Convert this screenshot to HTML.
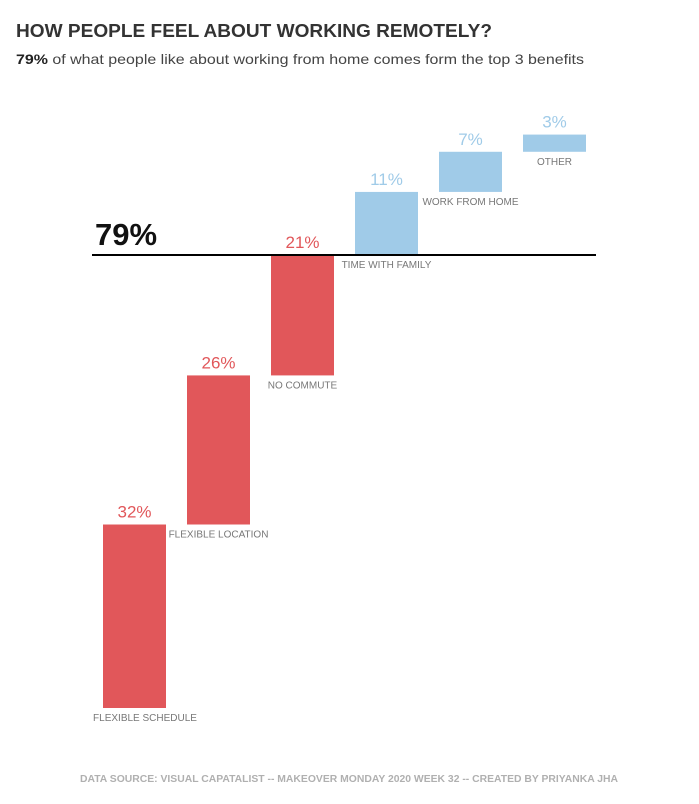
<!DOCTYPE html>
<html><head><meta charset="utf-8"><style>
body{margin:0;background:#fff;font-family:"Liberation Sans",sans-serif}
</style></head><body>
<svg width="699" height="799" xmlns="http://www.w3.org/2000/svg">
<text x="16" y="37" font-size="18" font-weight="bold" fill="#333" textLength="476" lengthAdjust="spacingAndGlyphs">HOW PEOPLE FEEL ABOUT WORKING REMOTELY?</text>
<text x="16" y="64" font-size="14" fill="#444" textLength="568" lengthAdjust="spacingAndGlyphs"><tspan font-weight="bold" fill="#222">79%</tspan> of what people like about working from home comes form the top 3 benefits</text>
<g id="bars"></g>
<line x1="92" y1="255" x2="596" y2="255" stroke="#000" stroke-width="2"/>
<text x="95" y="245" font-size="31" font-weight="bold" fill="#111">79%</text>
<text x="80" y="782" font-size="10" font-weight="bold" fill="#b0b0b0" textLength="538" lengthAdjust="spacingAndGlyphs">DATA SOURCE: VISUAL CAPATALIST -- MAKEOVER MONDAY 2020 WEEK 32 -- CREATED BY PRIYANKA JHA</text>
</svg>
<script>
const categories=["FLEXIBLE SCHEDULE","FLEXIBLE LOCATION","NO COMMUTE","TIME WITH FAMILY","WORK FROM HOME","OTHER"];
const values=[32,26,21,11,7,3];
const topCount=3;
const ns="http://www.w3.org/2000/svg";
const y=v=>708-v*(453/79);
const xStart=103,step=84,bw=63;
const g=document.getElementById("bars");
let cum=0;
values.forEach((v,i)=>{
  const base=cum;cum+=v;
  const red=i<topCount;
  const col=red?"#e1575a":"#a0cbe8";
  const x=xStart+i*step;
  const r=document.createElementNS(ns,"rect");
  r.setAttribute("x",x);r.setAttribute("y",y(cum));r.setAttribute("width",bw);r.setAttribute("height",y(base)-y(cum));r.setAttribute("fill",col);
  
  
  g.appendChild(r);
  const t=document.createElementNS(ns,"text");
  t.setAttribute("x",x+bw/2);t.setAttribute("y",y(cum)-7);t.setAttribute("text-anchor","middle");t.setAttribute("font-size","17");t.setAttribute("fill",col);
  t.textContent=v+"%";
  
  
  g.appendChild(t);
  const c=document.createElementNS(ns,"text");
  let cx=x+bw/2; if(i===0)cx=145;
  c.setAttribute("x",cx);c.setAttribute("y",y(base)+13);c.setAttribute("text-anchor","middle");c.setAttribute("font-size","10");c.setAttribute("fill","#777");
  c.textContent=categories[i];
  
  
  g.appendChild(c);
});
</script>
</body></html>
